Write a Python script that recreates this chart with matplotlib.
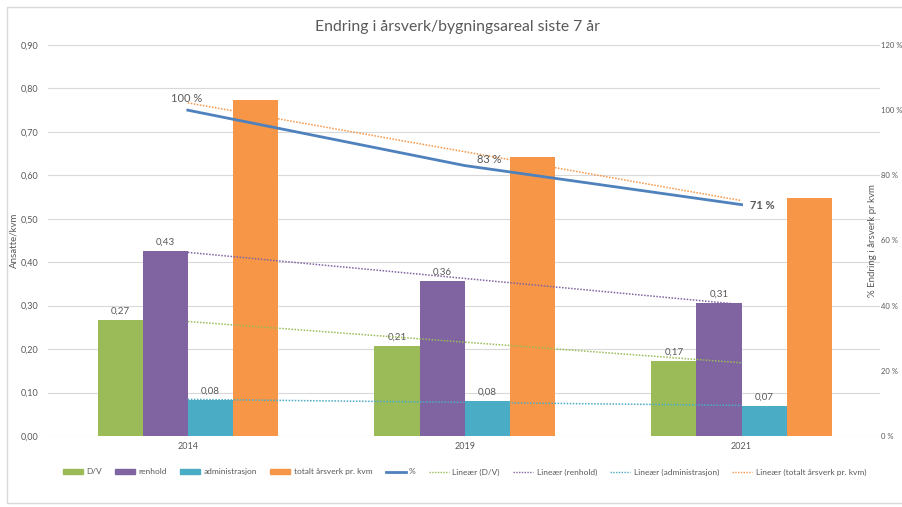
import numpy as np
import matplotlib
matplotlib.use("Agg")
import matplotlib.pyplot as plt
from matplotlib.patches import Patch, Rectangle
from matplotlib.lines import Line2D

plt.rcParams['font.family'] = ['Lato', 'DejaVu Sans']

# data
aar = ['2014', '2019', '2021']
dv = [0.268, 0.207, 0.173]
renhold = [0.426, 0.356, 0.306]
admin = [0.083, 0.080, 0.069]
totalt = [0.773, 0.642, 0.548]
prosent = [100, 83, 71]

serier = ['D/V', 'renhold', 'administrasjon', 'totalt årsverk pr. kvm']
farger = ['#9BBB59', '#8064A2', '#4BACC6', '#F79646']
linjefarge = '#4F81BD'
tekst = '#595959'

fig = plt.figure(figsize=(9.02, 5.07), dpi=100)
ax = fig.add_axes([48/902, 1 - 436/507, 832/902, 391/507])
ax2 = ax.twinx()

x = np.arange(len(aar))
w = 0.163
verdier = [dv, renhold, admin, totalt]
for i, (v, c) in enumerate(zip(verdier, farger)):
    b = ax.bar(x + (i - 1.5) * w, v, w, color=c, zorder=2)
    if i < 3:
        ax.bar_label(b, labels=[f'{val:.2f}'.replace('.', ',') for val in v],
                     padding=3, fontsize=7, color=tekst)

# lineære trendlinjer (som i Excel, per kategori)
for v, c in zip(verdier, farger):
    k, m = np.polyfit(x + 1, v, 1)
    ax.plot(x, k * (x + 1) + m, linestyle=(0, (1, 1)), color=c, lw=1.1, zorder=3)

ax.set_ylim(0, 0.9)
ax.set_xlim(-0.505, 2.5)
ax.set_yticks(np.arange(0, 0.91, 0.1))
ax.set_yticklabels([f'{t:.2f}'.replace('.', ',') for t in np.arange(0, 0.91, 0.1)])
ax.set_xticks(x)
ax.set_xticklabels(aar)
ax.grid(axis='y', color='#D9D9D9', lw=0.8, zorder=0)
ax.set_axisbelow(True)
ax.set_ylabel('Ansatte/kvm', fontsize=7, color=tekst)
ax.yaxis.set_label_coords(-0.036, 0.5)

ax2.plot(x, prosent, color=linjefarge, lw=2, zorder=4)
ax2.set_ylim(0, 120)
ax2.set_yticks(range(0, 121, 20))
ax2.set_yticklabels([f'{t} %' for t in range(0, 121, 20)])
ax2.set_ylabel('% Endring i årsverk pr kvm', fontsize=7, color=tekst, rotation=90)
ax2.yaxis.set_label_coords(0.986, 0.5)

ax2.annotate('100 %', (x[0], prosent[0]), xytext=(-12, 6), textcoords='offset points',
             fontsize=8, color=tekst)
ax2.annotate('83 %', (x[1], prosent[1]), xytext=(9, 2), textcoords='offset points',
             fontsize=8, color=tekst)
ax2.annotate('71 %', (x[2], prosent[2]), xytext=(6, -3), textcoords='offset points',
             fontsize=8, color=tekst, fontweight='bold')

for a in (ax, ax2):
    for s in a.spines.values():
        s.set_visible(False)
    a.tick_params(length=0, labelsize=6.5, colors=tekst)
ax.tick_params(axis='x', pad=4)
ax.tick_params(axis='y', pad=7)
ax2.tick_params(axis='y', pad=1, labelsize=5.5)

fig.text(0.507, 1 - 27/507, 'Endring i årsverk/bygningsareal siste 7 år', ha='center',
         va='center', fontsize=11.3, color=tekst)

handles = [Patch(color=c) for c in farger]
handles.append(Line2D([], [], color=linjefarge, lw=2))
handles += [Line2D([], [], color=c, linestyle=(0, (1, 1)), lw=1) for c in farger]
labels = serier + ['%'] + [f'Lineær ({s})' for s in serier]
fig.legend(handles, labels, loc='center', bbox_to_anchor=(0.515, 1 - 472/507), ncol=9,
           frameon=False, fontsize=6, labelcolor=tekst, handlelength=2.4,
           handleheight=0.5, columnspacing=1.6, handletextpad=0.4)

fig.patches.append(Rectangle((7/902, 4/507), 1.0, 1 - 11/507, transform=fig.transFigure,
                             fill=False, edgecolor='#D9D9D9', lw=1))

fig.savefig('out.png', dpi=100)
